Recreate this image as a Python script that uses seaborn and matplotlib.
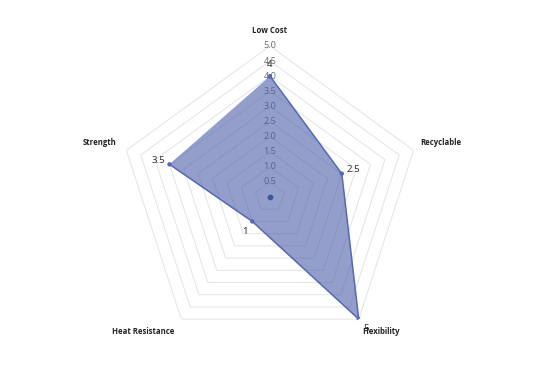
import numpy as np
import pandas as pd
import matplotlib
matplotlib.use("Agg")
import matplotlib.pyplot as plt
import seaborn as sns

# data
categories = ["Low Cost", "Recyclable", "Flexibility", "Heat Resistance", "Strength"]
values = [4, 2.5, 5, 1, 3.5]
value_labels = ["4", "2.5", "5", "1", "3.5"]
ring_levels = [0.5, 1.0, 1.5, 2.0, 2.5, 3.0, 3.5, 4.0, 4.5, 5.0]
r_max = 5.0

sns.set_theme(style="white")
plt.rcParams["font.family"] = ["Noto Sans", "DejaVu Sans"]

line_color = "#5468b8"
fill_color = "#4b5fa8"
grid_color = "#e3e3e3"

n = len(categories)
theta = np.linspace(0, 2 * np.pi, n, endpoint=False)
df = pd.DataFrame({"theta": theta, "value": values, "category": categories})

fig = plt.figure(figsize=(5.38, 3.67), dpi=100)
ax = fig.add_axes([0.2212, 0.0518, 0.5613, 0.8229], projection="polar")
ax.set_theta_zero_location("N")
ax.set_theta_direction(-1)
ax.set_ylim(0, r_max)
ax.grid(False)
ax.spines["polar"].set_visible(False)
ax.set_xticks([])
ax.set_yticks([])

# pentagon rings
closed_theta = np.append(theta, theta[0])
for lvl in ring_levels:
    ax.plot(closed_theta, [lvl] * (n + 1), color=grid_color, lw=0.7, zorder=1)

# radial tick labels along the top axis
for lvl in ring_levels:
    ax.text(0, lvl, f"{lvl:.1f}", ha="center", va="center",
            fontsize=6.5, color="#6e7079", zorder=2)

# data polygon
closed_vals = np.append(df["value"].values, df["value"].values[0])
ax.fill(closed_theta, closed_vals, color=fill_color, alpha=0.6, zorder=3, lw=0)
sns.lineplot(x=closed_theta, y=closed_vals, sort=False, color=line_color,
             lw=1.1, ax=ax, zorder=4)
sns.scatterplot(data=df, x="theta", y="value", color=line_color, s=10,
                edgecolor="none", ax=ax, zorder=5, legend=False)
# marker at the pole
ax.scatter([0], [0], color="#3f55a0", s=10, zorder=5)

# value labels pushed outward along each spoke
for t, v, lab in zip(theta, values, value_labels):
    dx, dy = 12 * np.sin(t), 12 * np.cos(t)
    ax.annotate(lab, (t, v), xytext=(dx, dy), textcoords="offset pixels",
                ha="center", va="center", fontsize=7, color="#333333", zorder=6)

# category names outside the outer ring
name_pos = [((0, 15), "center"), ((7, 8), "left"), ((4, -12), "left"),
            ((-7, -12), "right"), ((-10, 8), "right")]
for t, name, (off, ha) in zip(theta, categories, name_pos):
    ax.annotate(name, (t, r_max), xytext=off, textcoords="offset pixels",
                ha=ha, va="center", fontsize=5.6, fontweight="bold",
                family=["Open Sans", "DejaVu Sans"],
                color="#222222", annotation_clip=False)

ax.set_xlabel("")
ax.set_ylabel("")
fig.savefig("out.png", dpi=100)
